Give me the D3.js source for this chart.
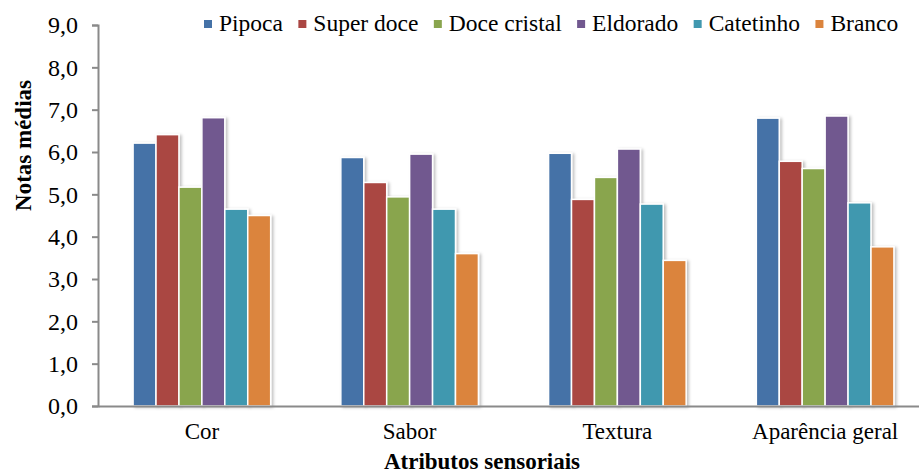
<!DOCTYPE html>
<html><head><meta charset="utf-8">
<script src="https://cdn.jsdelivr.net/npm/d3@7"></script>
<style>body{margin:0;background:#fff}svg{display:block}text{font-family:"Liberation Serif","Times New Roman",serif;fill:#000}</style>
</head><body><svg id="c" width="919" height="475"></svg>
<script>
const categories = ["Cor", "Sabor", "Textura", "Aparência geral"];
const seriesNames = ["Pipoca", "Super doce", "Doce cristal", "Eldorado", "Catetinho", "Branco"];
const colors = ["#4572A7", "#AA4643", "#89A54E", "#71588F", "#4198AF", "#DB843D"];
const pipoca = [6.21, 5.87, 5.97, 6.80];
const superDoce = [6.41, 5.28, 4.88, 5.78];
const doceCristal = [5.17, 4.94, 5.40, 5.61];
const eldorado = [6.81, 5.95, 6.07, 6.85];
const catetinho = [4.65, 4.65, 4.77, 4.80];
const branco = [4.50, 3.60, 3.44, 3.76];
const yTicks = [0, 1, 2, 3, 4, 5, 6, 7, 8, 9];
const yLabel = "Notas médias";
const xLabel = "Atributos sensoriais";

const FONT = '"Liberation Serif","Times New Roman",serif';
const seriesValues = [pipoca, superDoce, doceCristal, eldorado, catetinho, branco];
const svg = d3.select("#c");
const defs = svg.append("defs");
const f = defs.append("filter").attr("id","sh").attr("x","-20%").attr("y","-20%").attr("width","150%").attr("height","150%");
f.append("feDropShadow").attr("dx",2).attr("dy",1).attr("stdDeviation",1.5).attr("flood-color","#000").attr("flood-opacity",0.25);

const x0 = d3.scaleBand().domain(categories).range([98, 929]).paddingInner(0).paddingOuter(0);
const x1 = d3.scaleBand().domain(seriesNames).range([0, x0.bandwidth()]).paddingInner(0).paddingOuter(1.53);
const y = d3.scaleLinear().domain([0, 9]).range([406, 25]);

// bars
const g = svg.append("g");
categories.forEach((c, ci) => {
  seriesNames.forEach((s, si) => {
    const v = seriesValues[si][ci];
    g.append("rect")
      .attr("x", x0(c) + x1(s))
      .attr("y", y(v))
      .attr("width", x1.bandwidth())
      .attr("height", y(0) - y(v))
      .attr("fill", colors[si])
      .attr("stroke", "#fff").attr("stroke-width", 1.5)
      .attr("filter", "url(#sh)");
  });
});

// y axis
const yAxis = svg.append("g").attr("transform", "translate(98,0)")
  .call(d3.axisLeft(y).tickValues(yTicks).tickSize(6).tickPadding(14)
    .tickFormat(d => d3.format(".1f")(d).replace(".", ",")));
yAxis.attr("font-family", FONT);
yAxis.select(".domain").attr("stroke", "#8a8a8a").attr("stroke-width", 2);
yAxis.selectAll(".tick line").attr("stroke", "#8a8a8a").attr("stroke-width", 2);
yAxis.selectAll("text").attr("font-family", FONT).style("font-family", FONT).style("font-size", "24px").attr("fill", "#000");

// x axis
const xAxis = svg.append("g").attr("transform", "translate(0,406)")
  .call(d3.axisBottom(x0).tickSize(0).tickPadding(28));
xAxis.attr("font-family", FONT);
xAxis.select(".domain").attr("stroke", "#8a8a8a").attr("stroke-width", 2);
xAxis.selectAll("text").attr("font-family", FONT).style("font-family", FONT).style("font-size", "23px").attr("fill", "#000").attr("dy", "0.2em");

// axis titles
svg.append("text").attr("transform", "translate(31,145.5) rotate(-90)").attr("text-anchor", "middle")
  .style("font-family", FONT).style("font-size", "23px").style("font-weight", "bold").text(yLabel);
svg.append("text").attr("x", 482).attr("y", 469).attr("text-anchor", "middle")
  .style("font-family", FONT).style("font-size", "23px").style("font-weight", "bold").text(xLabel);

// legend
const leg = svg.append("g");
let lx = 204;
seriesNames.forEach((s, i) => {
  leg.append("rect").attr("x", lx).attr("y", 20).attr("width", 8).attr("height", 8).attr("fill", colors[i]);
  const t = leg.append("text").attr("x", lx + 15).attr("y", 31)
    .style("font-family", FONT).style("font-size", "23.5px").text(s);
  lx += 15 + t.node().getComputedTextLength() + 15.4;
});
</script></body></html>
